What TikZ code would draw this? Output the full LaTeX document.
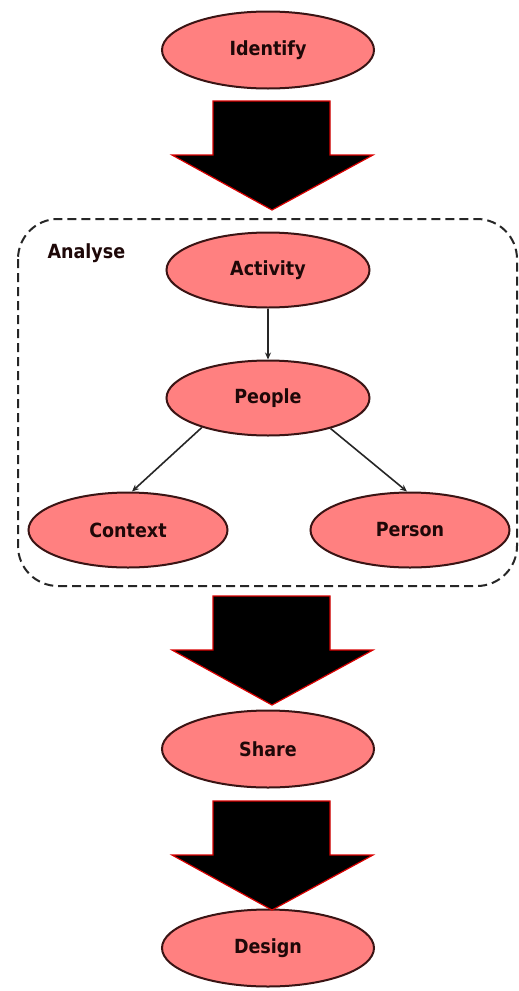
\documentclass[tikz,border=0pt]{standalone}
\usepackage{fontspec}
\setmainfont{DejaVu Sans Condensed}
\usetikzlibrary{arrows.meta,shapes.geometric,calc}
\definecolor{salmon}{HTML}{FF8080}
\definecolor{rim}{HTML}{3A1414}
\definecolor{ink}{HTML}{1E0808}
\begin{document}
\begin{tikzpicture}[x=1pt,y=-1pt,
  phase/.style={ellipse,draw=rim,line width=2pt,fill=salmon,
    minimum width=212pt,minimum height=77pt,inner sep=0pt,
    font=\bfseries\fontsize{19.5}{21}\selectfont,text=ink},
  sub/.style={phase,minimum width=203pt,minimum height=75pt},
  flow/.style={fill=black,draw=red!85!black,line width=1.2pt,line join=miter},
  link/.style={draw=black!85,line width=1.6pt,-{Stealth[length=7pt,width=6pt]}},
  group/.style={draw=black!85,line width=2pt,dash pattern=on 9pt off 5pt,rounded corners=40pt}
]
\useasboundingbox (0,0) rectangle (519,991);

% stage nodes
\node[phase] (identify) at (268,50) {Identify};
\node[sub]   (activity) at (268,270) {Activity};
\node[sub]   (people)   at (268,398) {People};
\node[sub,minimum width=199pt] (context)  at (128,530) {Context};
\node[sub,minimum width=199pt] (person)   at (410,530) {Person};
\node[phase] (share)    at (268,749) {Share};
\node[phase] (design)   at (268,948) {Design};

% analysis group frame
\draw[group] (18,219) rectangle (517,586);
\node[font=\bfseries\fontsize{19.5}{21}\selectfont,text=ink,anchor=west] (analyse) at (44,253) {Analyse};

% connectors inside the analysis group
\draw[link] (activity.south) -- (people.north);
\draw[link] (people.-156) -- ($(context.north)+(4,0)$);
\draw[link] (people.-26) -- ($(person.north)+(-3,0)$);

% big block arrows between stages
\newcommand{\blockarrow}[1]{%
  \draw[flow] ($(#1)+(-56,0)$) -- ($(#1)+(61,0)$) -- ($(#1)+(61,54)$) -- ($(#1)+(104,54)$)
    -- ($(#1)+(3,109)$) -- ($(#1)+(-97,54)$) -- ($(#1)+(-56,54)$) -- cycle;}
\coordinate (a1) at (269,101);
\coordinate (a2) at (269,596);
\coordinate (a3) at (269,801);
\blockarrow{a1}
\blockarrow{a2}
\blockarrow{a3}
\end{tikzpicture}
\end{document}
